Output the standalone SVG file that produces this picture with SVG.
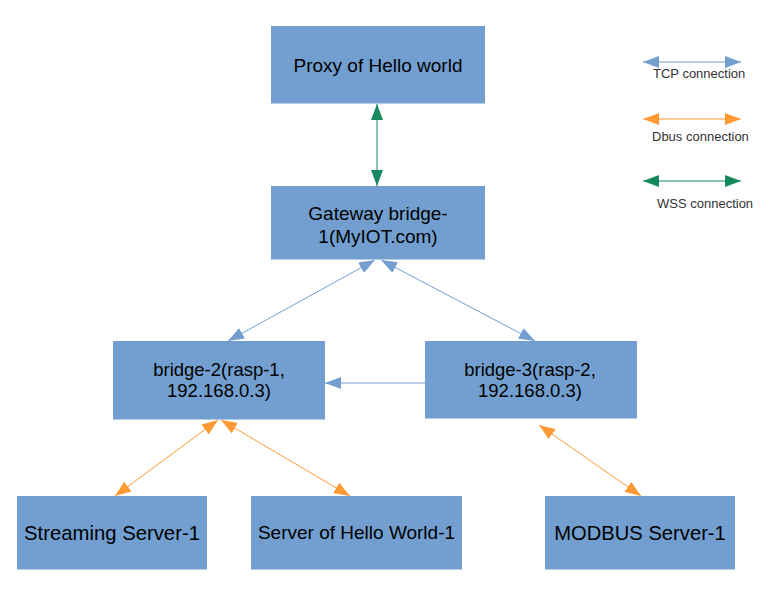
<svg xmlns="http://www.w3.org/2000/svg" width="778" height="598" viewBox="0 0 778 598">
<style>
.box{fill:#729fcf;}
.edge{stroke:#b4cde9;stroke-width:1;}
.t{font-family:"Liberation Sans",Arial,sans-serif;fill:#000;text-anchor:middle;}
.lg{font-family:"Liberation Sans",Arial,sans-serif;fill:#333;font-size:13px;}
.tcp{stroke:#729fcf;stroke-width:1;fill:none;}
.dbus{stroke:#ff9933;stroke-width:1;fill:none;}
.wss{stroke:#168a5e;stroke-width:1;fill:none;}
</style>
<defs>
<marker id="aB" markerUnits="userSpaceOnUse" markerWidth="16" markerHeight="12" refX="16" refY="6" orient="auto-start-reverse"><path d="M0,0 L16,6 L0,12 z" fill="#729fcf"/></marker>
<marker id="aO" markerUnits="userSpaceOnUse" markerWidth="16" markerHeight="12" refX="16" refY="6" orient="auto-start-reverse"><path d="M0,0 L16,6 L0,12 z" fill="#ff9933"/></marker>
<marker id="aG" markerUnits="userSpaceOnUse" markerWidth="16" markerHeight="12" refX="16" refY="6" orient="auto-start-reverse"><path d="M0,0 L16,6 L0,12 z" fill="#168a5e"/></marker>
</defs>
<rect width="778" height="598" fill="#fff"/>

<g id="connectors">
<line class="wss" x1="377" y1="104" x2="377" y2="186" marker-start="url(#aG)" marker-end="url(#aG)"/>
<line class="tcp" x1="375" y1="260" x2="228" y2="341" marker-start="url(#aB)" marker-end="url(#aB)"/>
<line class="tcp" x1="381" y1="260" x2="535" y2="341" marker-start="url(#aB)" marker-end="url(#aB)"/>
<line class="tcp" x1="425" y1="383" x2="325" y2="383" marker-end="url(#aB)"/>
<line class="dbus" x1="218" y1="420" x2="115" y2="496" marker-start="url(#aO)" marker-end="url(#aO)"/>
<line class="dbus" x1="221" y1="420" x2="350" y2="496" marker-start="url(#aO)" marker-end="url(#aO)"/>
<line class="dbus" x1="539" y1="425" x2="641" y2="496" marker-start="url(#aO)" marker-end="url(#aO)"/>
</g>

<g id="proxy">
<rect class="box" x="271" y="26" width="214" height="77"/>
<line class="edge" x1="271" y1="103.5" x2="485" y2="103.5"/>
<text class="t" x="378" y="71.5" font-size="19">Proxy of Hello world</text>
</g>
<g id="gateway">
<rect class="box" x="271" y="186" width="214" height="73"/>
<line class="edge" x1="271" y1="259.5" x2="485" y2="259.5"/>
<text class="t" x="378" y="219.5" font-size="19">Gateway bridge-</text>
<text class="t" x="378" y="242.5" font-size="19">1(MyIOT.com)</text>
</g>
<g id="bridge2">
<rect class="box" x="113" y="341" width="212" height="78"/>
<line class="edge" x1="113" y1="419.5" x2="325" y2="419.5"/>
<text class="t" x="219" y="376" font-size="18.5">bridge-2(rasp-1,</text>
<text class="t" x="219" y="397" font-size="18.5">192.168.0.3)</text>
</g>
<g id="bridge3">
<rect class="box" x="425" y="341" width="212" height="77"/>
<line class="edge" x1="425" y1="418.5" x2="637" y2="418.5"/>
<text class="t" x="530" y="376" font-size="18.5">bridge-3(rasp-2,</text>
<text class="t" x="530" y="397" font-size="18.5">192.168.0.3)</text>
</g>
<g id="streaming">
<rect class="box" x="17" y="496" width="190" height="73"/>
<line class="edge" x1="17" y1="569.5" x2="207" y2="569.5"/>
<text class="t" x="112" y="540" font-size="20.3">Streaming Server-1</text>
</g>
<g id="hello">
<rect class="box" x="251" y="496" width="211" height="73"/>
<line class="edge" x1="251" y1="569.5" x2="462" y2="569.5"/>
<text class="t" x="356.5" y="539" font-size="19">Server of Hello World-1</text>
</g>
<g id="modbus">
<rect class="box" x="545" y="496" width="190" height="73"/>
<line class="edge" x1="545" y1="569.5" x2="735" y2="569.5"/>
<text class="t" x="640" y="540" font-size="20.2">MODBUS Server-1</text>
</g>

<g id="legend">
<line class="tcp" x1="643" y1="62" x2="741" y2="62" marker-start="url(#aB)" marker-end="url(#aB)"/>
<text class="lg" x="653" y="78">TCP connection</text>
<line class="dbus" x1="643" y1="119" x2="741" y2="119" marker-start="url(#aO)" marker-end="url(#aO)"/>
<text class="lg" x="652" y="141">Dbus connection</text>
<line class="wss" x1="643" y1="181" x2="741" y2="181" marker-start="url(#aG)" marker-end="url(#aG)"/>
<text class="lg" x="657" y="208">WSS connection</text>
</g>
</svg>
